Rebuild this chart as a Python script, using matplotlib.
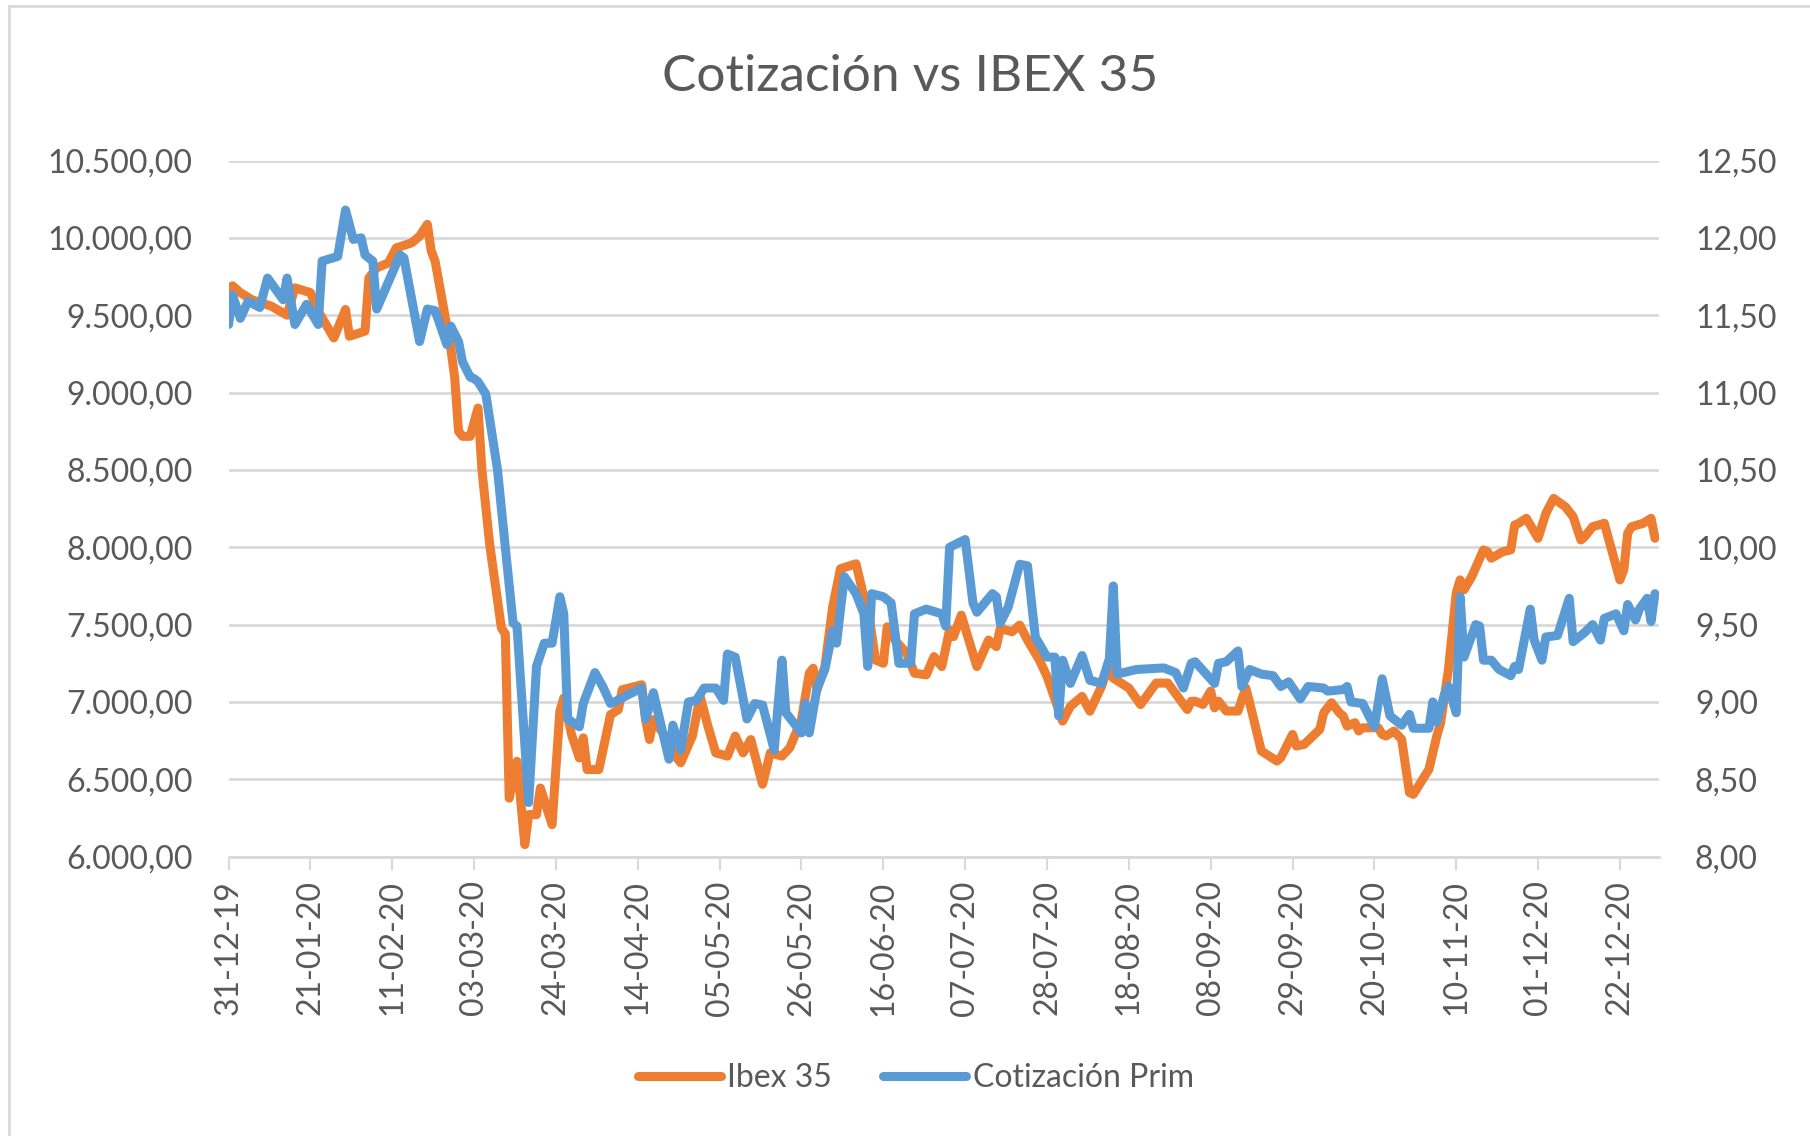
import matplotlib
matplotlib.use("Agg")
import matplotlib.pyplot as plt
from matplotlib.lines import Line2D
import pandas as pd

plt.rcParams['font.family'] = ['Lato', 'DejaVu Sans']

# ---------------- data ----------------
start_date = "2019-12-31"

ibex_days = [0, 1, 3, 6, 11, 15, 17, 21, 23, 25, 27, 30, 31, 35, 36, 38, 41, 43, 47, 49,
             51, 52, 53, 57, 58, 59, 60, 62, 64, 65, 67, 70, 71, 72, 74, 76, 77, 79, 80, 83,
             85, 86, 88, 90, 91, 92, 95, 98, 100, 101, 106, 107, 108, 109, 112, 114, 116, 119, 121, 123,
             125, 128, 130, 132, 134, 137, 139, 142, 144, 147, 149, 150, 151, 153, 155, 157, 161, 163, 164, 166,
             168, 169, 171, 174, 176, 179, 181, 183, 185, 186, 188, 192, 195, 197, 198, 201, 203, 205, 208, 210,
             214, 216, 219, 221, 224, 226, 227, 231, 234, 238, 241, 246, 247, 248, 250, 252, 253, 254, 256, 259,
             261, 262, 265, 269, 270, 273, 274, 276, 280, 281, 283, 285, 286, 287, 289, 290, 291, 295, 296, 297,
             299, 301, 303, 304, 308, 310, 311, 313, 315, 316, 317, 319, 322, 323, 324, 327, 329, 330, 331, 333,
             336, 338, 340, 343, 345, 347, 348, 350, 353, 357, 358, 359, 360, 363, 365, 366]
ibex_values = [9660, 9690, 9646, 9600, 9558, 9500, 9677, 9646, 9526, 9440, 9353, 9537, 9364, 9397, 9741, 9806, 9838, 9935, 9968, 10011,
               10087, 9914, 9849, 9289, 9100, 8750, 8717, 8717, 8900, 8500, 8017, 7477, 7440, 6378, 6616, 6078, 6272, 6272, 6444, 6207,
               6940, 7026, 6789, 6638, 6768, 6563, 6563, 6918, 6950, 7079, 7111, 6886, 6757, 6886, 6779, 6671, 6607, 6779, 7036, 6843,
               6671, 6650, 6779, 6671, 6757, 6468, 6671, 6650, 6704, 6886, 7186, 7218, 7079, 7229, 7614, 7861, 7893, 7679, 7614, 7271,
               7250, 7486, 7400, 7314, 7186, 7175, 7293, 7229, 7465, 7422, 7561, 7229, 7400, 7358, 7475, 7454, 7497, 7400, 7272, 7165,
               6876, 6972, 7036, 6940, 7101, 7251, 7154, 7090, 6983, 7122, 7122, 6951, 7004, 7005, 6984, 7070, 6962, 7005, 6941, 6941,
               7091, 6995, 6683, 6618, 6640, 6790, 6715, 6726, 6823, 6930, 6995, 6930, 6909, 6844, 6866, 6812, 6833, 6833, 6790, 6780,
               6812, 6758, 6414, 6403, 6565, 6778, 6865, 7209, 7703, 7789, 7725, 7811, 7983, 7972, 7929, 7972, 7983, 8144, 8155, 8187,
               8058, 8219, 8316, 8262, 8198, 8047, 8069, 8133, 8155, 7789, 7854, 8090, 8133, 8155, 8187, 8058]

prim_days = [0, 1, 3, 5, 8, 10, 14, 15, 17, 20, 23, 24, 28, 30, 32, 34, 35, 37, 38, 44,
             45, 49, 51, 53, 56, 57, 59, 60, 62, 63, 64, 66, 69, 71, 73, 74, 77, 79, 81, 83,
             85, 86, 87, 90, 91, 94, 96, 98, 99, 102, 106, 107, 109, 113, 114, 116, 118, 120, 122, 125,
             127, 128, 130, 133, 135, 137, 140, 142, 143, 147, 148, 149, 151, 153, 155, 156, 158, 161, 163, 164,
             165, 168, 170, 172, 175, 176, 179, 183, 184, 185, 189, 191, 192, 196, 197, 198, 200, 203, 205, 207,
             210, 212, 213, 214, 216, 219, 221, 224, 226, 227, 228, 233, 240, 243, 245, 247, 248, 253, 254, 256,
             259, 260, 262, 265, 268, 270, 272, 275, 277, 281, 282, 286, 287, 288, 291, 294, 296, 298, 301, 303,
             304, 308, 309, 310, 312, 313, 315, 316, 317, 320, 321, 322, 324, 326, 329, 330, 331, 334, 335, 337,
             338, 341, 344, 345, 348, 350, 352, 353, 356, 358, 359, 361, 362, 364, 365, 366]
prim_values = [11.44, 11.63, 11.48, 11.59, 11.55, 11.74, 11.60, 11.74, 11.44, 11.57, 11.44, 11.85, 11.88, 12.18, 11.99, 12.00, 11.89, 11.85, 11.54, 11.89,
               11.87, 11.33, 11.54, 11.53, 11.31, 11.43, 11.33, 11.20, 11.10, 11.09, 11.07, 10.99, 10.50, 10.00, 9.51, 9.49, 8.35, 9.23, 9.38, 9.38,
               9.68, 9.57, 8.89, 8.84, 8.99, 9.19, 9.10, 8.99, 9.00, 9.04, 9.09, 8.89, 9.06, 8.63, 8.85, 8.69, 9.00, 9.01, 9.09, 9.09,
               9.01, 9.31, 9.29, 8.89, 8.99, 8.98, 8.69, 9.27, 8.93, 8.80, 8.99, 8.80, 9.09, 9.21, 9.46, 9.38, 9.81, 9.70, 9.57, 9.23,
               9.70, 9.68, 9.64, 9.25, 9.25, 9.57, 9.60, 9.57, 9.49, 10.00, 10.05, 9.64, 9.58, 9.70, 9.68, 9.51, 9.61, 9.89, 9.88, 9.42,
               9.29, 9.29, 8.91, 9.27, 9.12, 9.30, 9.14, 9.12, 9.28, 9.75, 9.18, 9.21, 9.22, 9.19, 9.09, 9.25, 9.26, 9.12, 9.25, 9.26,
               9.33, 9.10, 9.21, 9.18, 9.17, 9.10, 9.13, 9.02, 9.10, 9.09, 9.07, 9.08, 9.10, 9.00, 8.99, 8.84, 9.15, 8.91, 8.85, 8.92,
               8.83, 8.83, 9.00, 8.87, 9.05, 9.10, 8.93, 9.68, 9.29, 9.50, 9.49, 9.27, 9.27, 9.21, 9.17, 9.23, 9.21, 9.60, 9.40, 9.27,
               9.42, 9.43, 9.67, 9.39, 9.45, 9.50, 9.40, 9.54, 9.57, 9.46, 9.63, 9.53, 9.60, 9.67, 9.52, 9.70]

left_ticks = [6000, 6500, 7000, 7500, 8000, 8500, 9000, 9500, 10000, 10500]
right_ticks = [8.0, 8.5, 9.0, 9.5, 10.0, 10.5, 11.0, 11.5, 12.0, 12.5]
x_tick_step_days = 21

title = "Cotización vs IBEX 35"
ibex_label = "Ibex 35"
prim_label = "Cotización Prim"

# ---------------- styling ----------------
ORANGE = "#ED7D31"
BLUE = "#5B9BD5"
TEXT = "#595959"
GRID = "#D9D9D9"


def es_fmt(v):
    s = f"{v:,.2f}"
    return s.replace(",", "X").replace(".", ",").replace("X", ".")


t0 = pd.Timestamp(start_date)
ibex_dates = [t0 + pd.Timedelta(days=d) for d in ibex_days]
prim_dates = [t0 + pd.Timedelta(days=d) for d in prim_days]

fig = plt.figure(figsize=(18.10, 11.36), dpi=100)
ax = fig.add_axes([0.1263, 0.2459, 0.7902, 0.6128])
ax2 = ax.twinx()

ax.plot(ibex_dates, ibex_values, color=ORANGE, lw=6.5, solid_joinstyle="round",
        solid_capstyle="round", label=ibex_label, zorder=3)
ax2.plot(prim_dates, prim_values, color=BLUE, lw=6.5, solid_joinstyle="round",
         solid_capstyle="round", label=prim_label, zorder=3)

ax.set_ylim(left_ticks[0], left_ticks[-1])
ax2.set_ylim(right_ticks[0], right_ticks[-1])
ax.set_yticks(left_ticks)
ax.set_yticklabels([es_fmt(v) for v in left_ticks])
ax2.set_yticks(right_ticks)
ax2.set_yticklabels([es_fmt(v) for v in right_ticks])

xticks = pd.date_range(t0, t0 + pd.Timedelta(days=366), freq=f"{x_tick_step_days}D")
ax.set_xlim(t0, t0 + pd.Timedelta(days=367))
ax.set_xticks(xticks)
ax.set_xticklabels([d.strftime("%d-%m-%y") for d in xticks], rotation=90)

ax.grid(axis="y", color=GRID, lw=2)
ax.set_axisbelow(True)
for a in (ax, ax2):
    for s in ("top", "right", "left", "bottom"):
        a.spines[s].set_visible(False)
ax.spines["bottom"].set_visible(True)
ax.spines["bottom"].set_color(GRID)
ax.spines["bottom"].set_linewidth(2)

ax.tick_params(axis="y", length=0, labelsize=23, labelcolor=TEXT, pad=26)
ax2.tick_params(axis="y", length=0, labelsize=23, labelcolor=TEXT, pad=26)
ax.tick_params(axis="x", length=9, width=1.5, color=GRID, labelsize=23,
               labelcolor=TEXT, pad=8)

fig.text(0.503, 0.932, title, ha="center", va="center", fontsize=37, color=TEXT)

handles = [Line2D([], [], color=ORANGE, lw=6.5, solid_capstyle="round"),
           Line2D([], [], color=BLUE, lw=6.5, solid_capstyle="round")]
fig.legend(handles, [ibex_label, prim_label], loc="center", bbox_to_anchor=(0.506, 0.051),
           ncol=2, frameon=False, fontsize=23, handlelength=2.6, handletextpad=0.2,
           columnspacing=1.6, labelcolor=TEXT)

# chart-area border (top and left edges visible)
fig.add_artist(Line2D([0.005, 1.0], [0.995, 0.995], transform=fig.transFigure, color=GRID, lw=2))
fig.add_artist(Line2D([0.005, 0.005], [0.0, 0.995], transform=fig.transFigure, color=GRID, lw=2))

fig.savefig("out.png", dpi=100, facecolor="white")
